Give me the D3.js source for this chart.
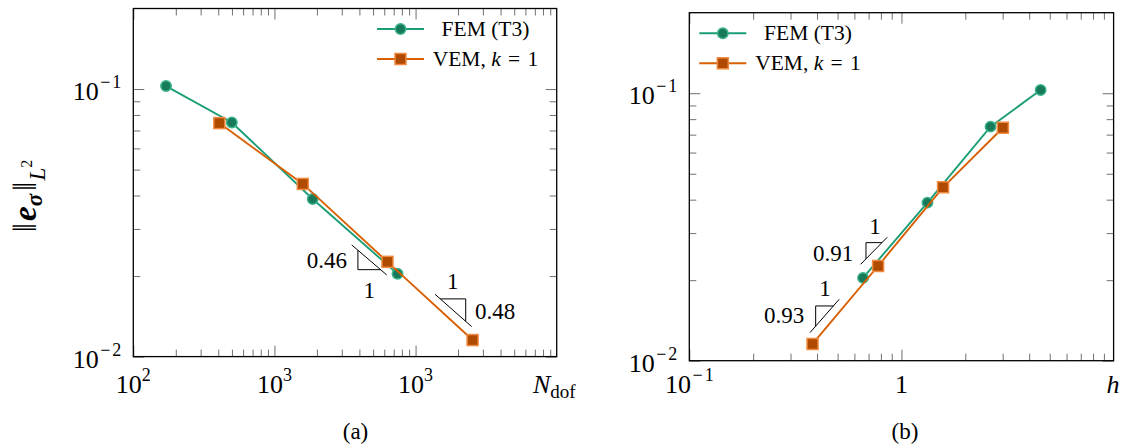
<!DOCTYPE html>
<html><head><meta charset="utf-8">
<script src="https://cdn.jsdelivr.net/npm/d3@7"></script>
<style>
body{margin:0;background:#fff}
svg{display:block}
svg text{font-family:"Liberation Serif","Tinos","Times New Roman","DejaVu Serif",serif;fill:#000}
</style>
</head><body>
<svg id="c" width="1126" height="445" font-family="Liberation Serif, Tinos, Times New Roman, DejaVu Serif, serif"></svg>
<script>
// ---------------- data ----------------
const seriesNames = ["FEM (T3)", "VEM"];
// panel (a): error vs number of dofs
const femNdof = [170.6, 499, 1866, 7450];
const femErrA = [0.1026, 0.0750, 0.0388, 0.0204];
const vemNdof = [407, 1589, 6324, 25350];
const vemErrA = [0.0746, 0.0442, 0.0226, 0.01153];
// panel (b): error vs mesh size h
const femH = [4.53, 2.63, 1.326, 0.659];
const femErrB = [0.1028, 0.0750, 0.0390, 0.0204];
const vemH = [3.007, 1.571, 0.776, 0.381];
const vemErrB = [0.0743, 0.0445, 0.0226, 0.01155];
// ticks
const xTicksA = [1e2, 1e3, 1e4];
const xTickExpA = ["2", "3", "3"];
const xTicksB = [0.1, 1];
const xTickBaseB = ["10", "1"];
const xTickExpB = ["\u22121", ""];
const yTicks = [0.01, 0.1];
const yTickExp = ["\u22122", "\u22121"];
// slope triangles: hypotenuse ends p1,p2, right-angle corner c (data coords)
const slopesA = [
  {p1:[3527,0.02615], p2:[6245,0.02020], c:[3904,0.02113],
   rate:"0.46", rateAt:[3268,0.02298], rateAnchor:"end", one:"1", oneAt:[4700,0.01775]},
  {p1:[13734,0.01710], p2:[24990,0.01294], c:[22660,0.01643],
   rate:"0.48", rateAt:[26380,0.01472], rateAnchor:"start", one:"1", oneAt:[18336,0.01906]}
];
const slopesB = [
  {p1:[0.6422,0.02293], p2:[0.8571,0.02894], c:[0.6804,0.02763],
   rate:"0.91", rateAt:[0.5928,0.02528], rateAnchor:"end", one:"1", oneAt:[0.750,0.03190]},
  {p1:[0.3705,0.01273], p2:[0.5090,0.01697], c:[0.3941,0.01602],
   rate:"0.93", rateAt:[0.3482,0.01482], rateAnchor:"end", one:"1", oneAt:[0.4358,0.01866]}
];

// ---------------- style ----------------
const femLine = "#1b9e77", femFill = "#177a5b", femEdge = "#3db38c";
const vemLine = "#d95f02", vemFill = "#b04a00", vemEdge = "#f08a40";
const FONT = "Liberation Serif, Tinos, Times New Roman, DejaVu Serif, serif";
const svg = d3.select("#c");

function minorTicks(dom) {
  const out = [];
  const lo = Math.floor(Math.log10(dom[0])), hi = Math.ceil(Math.log10(dom[1]));
  for (let d = lo; d < hi; d++) for (let k = 2; k <= 9; k++) {
    const v = k * Math.pow(10, d);
    if (v > dom[0] * 1.0001 && v < dom[1] * 0.9999) out.push(v);
  }
  return out;
}

function txt(g) { return g.append("text").attr("font-family", FONT); }

// superscript exponent; TeX-like wide minus sign
function addExp(t, s, sfs) {
  if (!s) return;
  if (s[0] === "\u2212") {
    t.append("tspan").attr("font-size", sfs).attr("dy", -12).attr("dx", 1.5).text("\u2212");
    t.append("tspan").attr("font-size", sfs).attr("dx", 2).text(s.slice(1));
  } else {
    t.append("tspan").attr("font-size", sfs).attr("dy", -12).text(s);
  }
}

function panel(cfg) {
  const x = d3.scaleLog().domain(cfg.xDom).range([cfg.left, cfg.right]);
  const y = d3.scaleLog().domain(cfg.yDom).range([cfg.bottom, cfg.top]);
  const g = svg.append("g");
  const W = cfg.right - cfg.left, H = cfg.bottom - cfg.top;
  const majorX = cfg.xMajors, majorY = yTicks;
  const minX = minorTicks(cfg.xDom), minY = minorTicks(cfg.yDom);
  const tickCol = "#707070";
  function addAxis(axisFn, scale, vals, len, tr) {
    const a = g.append("g").attr("transform", tr)
      .call(axisFn(scale).tickValues(vals).tickSize(-len).tickFormat(""));
    a.select(".domain").remove();
    a.selectAll("line").attr("stroke", tickCol).attr("stroke-width", 1);
  }
  addAxis(d3.axisBottom, x, majorX, 11, `translate(0,${cfg.bottom})`);
  addAxis(d3.axisBottom, x, minX, 7, `translate(0,${cfg.bottom})`);
  addAxis(d3.axisTop, x, majorX, 11, `translate(0,${cfg.top})`);
  addAxis(d3.axisTop, x, minX, 7, `translate(0,${cfg.top})`);
  addAxis(d3.axisLeft, y, majorY, 11, `translate(${cfg.left},0)`);
  addAxis(d3.axisLeft, y, minY, 7, `translate(${cfg.left},0)`);
  addAxis(d3.axisRight, y, majorY, 11, `translate(${cfg.right},0)`);
  addAxis(d3.axisRight, y, minY, 7, `translate(${cfg.right},0)`);
  g.append("rect").attr("x", cfg.left).attr("y", cfg.top).attr("width", W).attr("height", H)
    .attr("fill", "none").attr("stroke", "#000").attr("stroke-width", 1.3);

  // tick labels
  const fs = 26, sfs = 18;
  cfg.xMajors.forEach((v, i) => {
    const t = txt(g).attr("x", x(v)).attr("y", 393).attr("text-anchor", "middle")
      .attr("font-size", fs);
    t.append("tspan").text(cfg.xBase[i]);
    addExp(t, cfg.xExp[i], sfs);
  });
  yTicks.forEach((v, i) => {
    const t = txt(g).attr("x", cfg.left - 12).attr("y", y(v) + 11)
      .attr("text-anchor", "end").attr("font-size", fs);
    t.append("tspan").text("10");
    addExp(t, yTickExp[i], sfs);
  });
  cfg.xLabel(g);

  // series
  const line = d3.line().x(d => x(d[0])).y(d => y(d[1]));
  const fem = cfg.femX.map((v, i) => [v, cfg.femY[i]]);
  const vem = cfg.vemX.map((v, i) => [v, cfg.vemY[i]]);
  g.append("path").datum(fem).attr("d", line).attr("fill", "none")
    .attr("stroke", femLine).attr("stroke-width", 1.9);
  g.selectAll(".fm").data(fem).enter().append("circle")
    .attr("cx", d => x(d[0])).attr("cy", d => y(d[1])).attr("r", 5.2)
    .attr("fill", femFill).attr("stroke", femEdge).attr("stroke-width", 1.5);
  g.append("path").datum(vem).attr("d", line).attr("fill", "none")
    .attr("stroke", vemLine).attr("stroke-width", 1.9);
  g.selectAll(".vm").data(vem).enter().append("rect")
    .attr("x", d => x(d[0]) - 5.5).attr("y", d => y(d[1]) - 5.5)
    .attr("width", 11).attr("height", 11)
    .attr("fill", vemFill).attr("stroke", vemEdge).attr("stroke-width", 1.5);

  // slope triangles
  cfg.slopes.forEach(s => {
    const P1 = [x(s.p1[0]), y(s.p1[1])], P2 = [x(s.p2[0]), y(s.p2[1])];
    const C = [x(s.c[0]), y(s.c[1])];
    const m = (P2[1] - P1[1]) / (P2[0] - P1[0]);
    const hypY = P1[1] + m * (C[0] - P1[0]);
    const hypX = P1[0] + (C[1] - P1[1]) / m;
    const tg = g.append("g").attr("stroke", "#000").attr("stroke-width", 1).attr("fill", "none");
    tg.append("line").attr("x1", P1[0]).attr("y1", P1[1]).attr("x2", P2[0]).attr("y2", P2[1]);
    tg.append("line").attr("x1", C[0]).attr("y1", C[1]).attr("x2", C[0]).attr("y2", hypY);
    tg.append("line").attr("x1", C[0]).attr("y1", C[1]).attr("x2", hypX).attr("y2", C[1]);
    const tfs = 23;
    txt(g).attr("x", x(s.rateAt[0])).attr("y", y(s.rateAt[1]) + 0.34 * tfs)
      .attr("text-anchor", s.rateAnchor).attr("font-size", tfs).text(s.rate);
    txt(g).attr("x", x(s.oneAt[0])).attr("y", y(s.oneAt[1]) + 0.34 * tfs)
      .attr("text-anchor", "middle").attr("font-size", tfs).text(s.one);
  });

  // legend
  const L = cfg.legend, lfs = 21.5;
  [0, 1].forEach(i => {
    const ly = L.y + i * 30;
    g.append("line").attr("x1", L.x).attr("x2", L.x + 47).attr("y1", ly).attr("y2", ly)
      .attr("stroke", i ? vemLine : femLine).attr("stroke-width", 1.9);
    if (i === 0) {
      g.append("circle").attr("cx", L.x + 23.5).attr("cy", ly).attr("r", 5.2)
        .attr("fill", femFill).attr("stroke", femEdge).attr("stroke-width", 1.5);
    } else {
      g.append("rect").attr("x", L.x + 18).attr("y", ly - 5.5).attr("width", 11).attr("height", 11)
        .attr("fill", vemFill).attr("stroke", vemEdge).attr("stroke-width", 1.5);
    }
    const t = txt(g).attr("x", L.tx).attr("y", ly + 7).attr("text-anchor", "middle")
      .attr("font-size", lfs);
    if (i === 0) t.text(seriesNames[0]);
    else {
      t.append("tspan").text(seriesNames[1] + ", ");
      t.append("tspan").attr("font-style", "italic").text("k");
      t.append("tspan").attr("dx", 2).text(" = ");
      t.append("tspan").attr("dx", 2).text("1");
    }
  });

  // caption
  txt(g).attr("x", cfg.capX).attr("y", 439).attr("text-anchor", "middle")
    .attr("font-size", 23).text(cfg.caption);
  return {x, y};
}

panel({
  xDom: [1e2, 1e5], yDom: [0.01, 0.2],
  left: 133.3, right: 556.7, top: 8.5, bottom: 356.6,
  xMajors: xTicksA, xBase: ["10", "10", "10"], xExp: xTickExpA,
  femX: femNdof, femY: femErrA, vemX: vemNdof, vemY: vemErrA,
  slopes: slopesA,
  legend: {x: 377, y: 29, tx: 485.5},
  caption: "(a)", capX: 355.5,
  xLabel: g => {
    const t = txt(g).attr("x", 533).attr("y", 393).attr("font-size", 26);
    t.append("tspan").attr("font-style", "italic").text("N");
    t.append("tspan").attr("font-size", 19).attr("dy", 5).text("dof");
  }
});
panel({
  xDom: [0.1, 10], yDom: [0.01, 0.2],
  left: 689.3, right: 1113.6, top: 12.7, bottom: 360.7,
  xMajors: xTicksB, xBase: xTickBaseB, xExp: xTickExpB,
  femX: femH, femY: femErrB, vemX: vemH, vemY: vemErrB,
  slopes: slopesB,
  legend: {x: 699.3, y: 33.3, tx: 808},
  caption: "(b)", capX: 905,
  xLabel: g => {
    txt(g).attr("x", 1113).attr("y", 393).attr("text-anchor", "middle")
      .attr("font-size", 26).attr("font-style", "italic").text("h");
  }
});

// y-axis label of panel (a)
const yl = txt(svg).attr("transform", "translate(36,196) rotate(-90)")
  .attr("text-anchor", "middle").attr("font-size", 33);
yl.append("tspan").text("\u2016");
yl.append("tspan").attr("font-weight", "bold").attr("font-style", "italic").attr("dx", 2).text("e");
yl.append("tspan").attr("font-weight", "bold").attr("font-style", "italic")
  .attr("font-size", 23).attr("dy", 6).text("\u03c3");
yl.append("tspan").attr("dy", -6).attr("dx", 3).text("\u2016");
yl.append("tspan").attr("font-style", "italic").attr("font-size", 23).attr("dy", 9).attr("dx", 1).text("L");
yl.append("tspan").attr("font-size", 16).attr("dy", -13).text("2");
</script>
</body></html>
